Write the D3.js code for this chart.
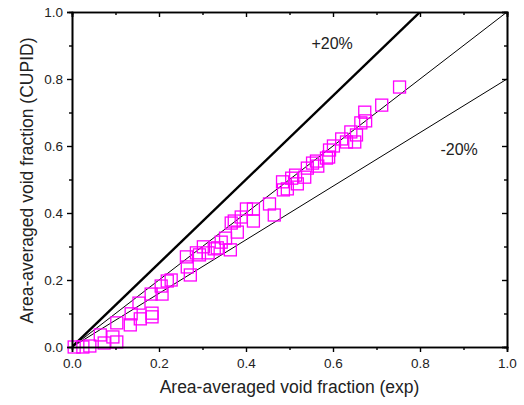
<!DOCTYPE html>
<html>
<head>
<meta charset="utf-8">
<script src="https://cdn.jsdelivr.net/npm/d3@7"></script>
<style>
  body { margin: 0; background: #fff; }
  svg text { font-family: "Liberation Sans", Arial, sans-serif; fill: #222; }
</style>
</head>
<body>
<svg id="chart" width="524" height="405"></svg>
<script>
// measured vs predicted void fraction
const expVals = [0.005, 0.025, 0.041, 0.065, 0.074, 0.094, 0.103, 0.103, 0.134, 0.136,
  0.157, 0.154, 0.184, 0.184, 0.182, 0.205, 0.207, 0.219, 0.228, 0.263,
  0.265, 0.272, 0.286, 0.293, 0.302, 0.313, 0.327, 0.334, 0.343, 0.353,
  0.364, 0.366, 0.373, 0.380, 0.389, 0.401, 0.417, 0.417, 0.454, 0.465,
  0.484, 0.486, 0.495, 0.505, 0.514, 0.518, 0.535, 0.541, 0.553, 0.562,
  0.565, 0.585, 0.590, 0.592, 0.601, 0.620, 0.631, 0.641, 0.650, 0.654,
  0.664, 0.675, 0.673, 0.712, 0.753];
const cupidVals = [0.000, 0.000, 0.003, 0.036, 0.012, 0.030, 0.015, 0.072, 0.066, 0.099,
  0.084, 0.131, 0.101, 0.090, 0.158, 0.182, 0.158, 0.197, 0.200, 0.269,
  0.239, 0.215, 0.281, 0.275, 0.299, 0.281, 0.293, 0.296, 0.313, 0.325,
  0.290, 0.370, 0.376, 0.343, 0.388, 0.412, 0.412, 0.376, 0.427, 0.394,
  0.493, 0.469, 0.472, 0.504, 0.513, 0.487, 0.507, 0.534, 0.549, 0.555,
  0.540, 0.564, 0.567, 0.588, 0.600, 0.621, 0.612, 0.642, 0.612, 0.633,
  0.669, 0.675, 0.701, 0.722, 0.776];

const refFactors = [1.0, 1.25, 0.8];
const refLabels = [
  { text: "+20%", x: 0.598, y: 0.905 },
  { text: "-20%", x: 0.89, y: 0.59 }
];
const majorTicks = [0, 0.2, 0.4, 0.6, 0.8, 1.0];
const minorTicks = [0.1, 0.3, 0.5, 0.7, 0.9];

const svg = d3.select("#chart");
const box = { left: 72, right: 507, top: 12, bottom: 347 };

const x = d3.scaleLinear().domain([0, 1]).range([box.left, box.right]);
const y = d3.scaleLinear().domain([0, 1]).range([box.bottom, box.top]);

const plot = svg.append("g");

// clip so the reference lines stop at the frame
svg.append("clipPath").attr("id", "clip")
  .append("rect").attr("x", box.left).attr("y", box.top)
  .attr("width", box.right - box.left).attr("height", box.bottom - box.top);

const lines = plot.append("g").attr("clip-path", "url(#clip)");
refFactors.forEach(f => {
  lines.append("path")
    .datum([0, 1])
    .attr("fill", "none")
    .attr("stroke", "#000")
    .attr("stroke-width", f > 1 ? 2.4 : 1)
    .attr("d", d3.line().x(d => x(d)).y(d => y(d * f)));
});

// data squares
const sq = 12;
plot.append("g").selectAll("rect")
  .data(expVals.map((v, i) => [v, cupidVals[i]]))
  .enter().append("rect")
  .attr("x", d => x(d[0]) - sq / 2)
  .attr("y", d => y(d[1]) - sq / 2)
  .attr("width", sq).attr("height", sq)
  .attr("fill", "none")
  .attr("stroke", "#ff00ff")
  .attr("stroke-width", 1.3);

// axes
function styleAxis(g) {
  g.select(".domain").attr("stroke", "#000").attr("stroke-width", 1.6);
  g.selectAll(".tick line").attr("stroke", "#000").attr("stroke-width", 1.4);
  g.selectAll(".tick text").attr("font-size", 13.5).attr("fill", "#222")
    .attr("font-family", "'Liberation Sans', Arial, sans-serif");
}
const fmt = d3.format(".1f");

svg.append("g").attr("transform", `translate(0,${box.bottom})`)
  .call(d3.axisBottom(x).tickValues(majorTicks).tickSize(5).tickPadding(6).tickFormat(fmt))
  .call(styleAxis);
svg.append("g").attr("transform", `translate(0,${box.bottom})`)
  .call(d3.axisBottom(x).tickValues(minorTicks).tickSize(3).tickFormat(""))
  .call(styleAxis);
svg.append("g").attr("transform", `translate(${box.left},0)`)
  .call(d3.axisLeft(y).tickValues(majorTicks).tickSize(5).tickPadding(4).tickFormat(fmt))
  .call(styleAxis);
svg.append("g").attr("transform", `translate(${box.left},0)`)
  .call(d3.axisLeft(y).tickValues(minorTicks).tickSize(3).tickFormat(""))
  .call(styleAxis);
// mirrored ticks pointing inward
svg.append("g").attr("transform", `translate(0,${box.top})`)
  .call(d3.axisBottom(x).tickValues(majorTicks).tickSize(5).tickFormat(""))
  .call(styleAxis);
svg.append("g").attr("transform", `translate(0,${box.top})`)
  .call(d3.axisBottom(x).tickValues(minorTicks).tickSize(3).tickFormat(""))
  .call(styleAxis);
svg.append("g").attr("transform", `translate(${box.right},0)`)
  .call(d3.axisLeft(y).tickValues(majorTicks).tickSize(5).tickFormat(""))
  .call(styleAxis);
svg.append("g").attr("transform", `translate(${box.right},0)`)
  .call(d3.axisLeft(y).tickValues(minorTicks).tickSize(3).tickFormat(""))
  .call(styleAxis);

// annotations
refLabels.forEach(l => {
  svg.append("text")
    .attr("x", x(l.x)).attr("y", y(l.y))
    .attr("text-anchor", "middle")
    .attr("dominant-baseline", "central")
    .attr("font-size", 16)
    .text(l.text);
});

svg.append("text")
  .attr("x", (box.left + box.right) / 2).attr("y", 393)
  .attr("text-anchor", "middle")
  .attr("font-size", 17.5)
  .text("Area-averaged void fraction (exp)");

svg.append("text")
  .attr("transform", `translate(33,${(box.top + box.bottom) / 2 + 1}) rotate(-90)`)
  .attr("text-anchor", "middle")
  .attr("font-size", 17.5)
  .text("Area-averaged void fraction (CUPID)");
</script>
</body>
</html>
